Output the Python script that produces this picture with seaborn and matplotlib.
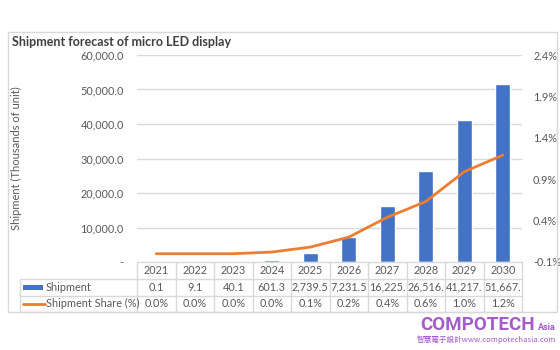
import numpy as np
import pandas as pd
import matplotlib
matplotlib.use("Agg")
import matplotlib.pyplot as plt
import seaborn as sns
from matplotlib.transforms import blended_transform_factory
from matplotlib.patches import Rectangle
from matplotlib.lines import Line2D

# ---- data ----
years = ["2021", "2022", "2023", "2024", "2025", "2026", "2027", "2028", "2029", "2030"]
shipment = [0.1, 9.1, 40.1, 601.3, 2739.5, 7231.5, 16225.0, 26516.0, 41217.0, 51667.0]
share = [0.0, 0.0, 0.0, 0.02, 0.08, 0.20, 0.44, 0.63, 0.99, 1.19]
left_ticks = [0, 10000, 20000, 30000, 40000, 50000, 60000]
right_ticks = [-0.1, 0.4, 0.9, 1.4, 1.9, 2.4]
title = "Shipment forecast of micro LED display"
ylabel = "Shipment (Thousands of unit)"
series_names = ["Shipment", "Shipment Share (%)"]

BAR = "#4472C4"
LINE = "#ED7D31"
GRID = "#D9D9D9"
TXT = "#595959"
FONT = "Lato"

sns.set_theme(style="white")
plt.rcParams["font.family"] = [FONT, "DejaVu Sans"]

W, H = 560, 350
fig = plt.figure(figsize=(W / 100, H / 100), dpi=100)
fig.patch.set_facecolor("white")


def fx(px):
    return px / W


def fy(py):
    return 1 - py / H


L, R, T, B = 137, 522, 55, 262
ax = fig.add_axes([fx(L), fy(B), fx(R) - fx(L), fy(T) - fy(B)])
df = pd.DataFrame({"year": years, "shipment": shipment, "share": share})
sns.barplot(data=df, x="year", y="shipment", color=BAR, width=0.39, ax=ax,
            saturation=1, zorder=3)
ax.set_xlim(-0.5, len(years) - 0.5)
ax.set_ylim(left_ticks[0], left_ticks[-1])
ax.set_yticks(left_ticks)
ax.set_yticklabels(["-" if v == 0 else f"{v:,.1f}" for v in left_ticks])
ax.set_xticks([])
ax.set_xlabel("")
ax.set_ylabel(ylabel, fontsize=8, color=TXT, va="center", ha="center")
ax.yaxis.set_label_coords((16 - L) / (R - L), 0.5)
ax.tick_params(axis="y", length=0, pad=9.5, labelsize=7.8, labelcolor=TXT)
for v in left_ticks[1:]:
    ax.axhline(v, color=GRID, lw=1, zorder=1)
for s in ax.spines.values():
    s.set_visible(False)
ax.set_facecolor("none")

ax2 = ax.twinx()
sns.lineplot(x=np.arange(len(years)), y=share, color=LINE, lw=2, ax=ax2, zorder=4)
ax2.set_ylim(right_ticks[0], right_ticks[-1])
ax2.set_yticks(right_ticks)
ax2.set_yticklabels([f"{v:.1f}%" for v in right_ticks])
ax2.tick_params(axis="y", length=0, pad=8, labelsize=7.8, labelcolor=TXT)
for s in ax2.spines.values():
    s.set_visible(False)
ax2.set_xlim(-0.5, len(years) - 0.5)

# ---- title ----
fig.text(fx(12), fy(42), title, fontsize=9.0, fontweight="bold", color="#404040",
         ha="left", va="center")

# ---- outer border ----
fig.add_artist(Rectangle((fx(8), fy(312)), fx(557) - fx(8), fy(32) - fy(312),
                         transform=fig.transFigure, fill=False, ec=GRID, lw=1))

# ---- data table ----
bt = blended_transform_factory(ax.transData, fig.transFigure)
r0, r1, r2, r3 = 262, 279, 295.5, 312
n = len(years)
edges = np.arange(n + 1) - 0.5
tl = dict(color=GRID, lw=1, clip_on=False)
fig.add_artist(Line2D([edges[0], edges[-1]], [fy(r0), fy(r0)], transform=bt, **tl))
for yy in (r1, r2, r3):
    fig.add_artist(Line2D([fx(20), fx(R)], [fy(yy), fy(yy)], transform=fig.transFigure, **tl))
for e in edges:
    fig.add_artist(Line2D([e, e], [fy(r0), fy(r3)], transform=bt, **tl))
fig.add_artist(Line2D([fx(20), fx(20)], [fy(r1), fy(r3)], transform=fig.transFigure, **tl))

tk = dict(fontsize=7.8, color=TXT, ha="center", va="center")
for i, y in enumerate(years):
    fig.text(i, fy((r0 + r1) / 2), y, transform=bt, **tk)
    fig.text(i, fy((r1 + r2) / 2), f"{shipment[i]:,.1f}"[:7], transform=bt, **tk)
    fig.text(i, fy((r2 + r3) / 2), f"{share[i]:.1f}%", transform=bt, **tk)

# legend keys
fig.add_artist(Rectangle((fx(23), fy(289.5)), fx(43) - fx(23), fy(285) - fy(289.5),
                         transform=fig.transFigure, color=BAR, lw=0))
fig.add_artist(Line2D([fx(23), fx(45)], [fy(303.5), fy(303.5)], transform=fig.transFigure,
                      color=LINE, lw=2))
fig.text(fx(45.5), fy((r1 + r2) / 2), series_names[0], fontsize=7.8, color=TXT,
         ha="left", va="center")
fig.text(fx(45.5), fy((r2 + r3) / 2), series_names[1], fontsize=7.8, color=TXT,
         ha="left", va="center")

# ---- watermark ----
PURPLE = "#A35CC9"
WM = ["Roboto", "DejaVu Sans"]
fig.text(fx(420), fy(330), "COMPOTECH", fontsize=13.5, fontweight="bold",
         family=WM, color=PURPLE, ha="left", va="baseline")
fig.text(fx(556), fy(330), "Asia", fontsize=6.5, fontweight="bold",
         family=WM, color=PURPLE, ha="right", va="baseline")
fig.text(fx(556), fy(340), "智慧電子設計www.compotechasia.com", fontsize=5.5,
         family=["Noto Sans CJK TC", "DejaVu Sans"], color=PURPLE,
         ha="right", va="center")

fig.savefig("out.png", dpi=100, facecolor="white")
